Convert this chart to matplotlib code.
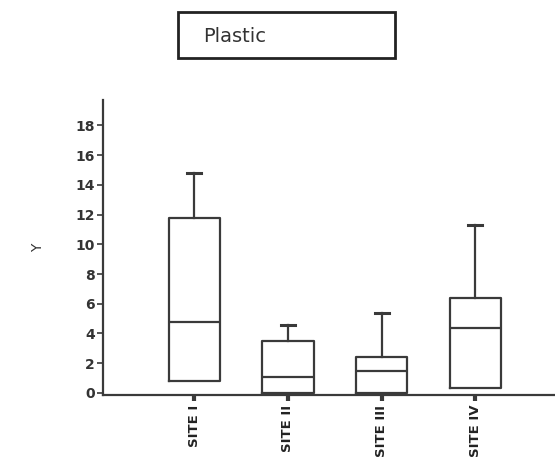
import matplotlib
matplotlib.use('Agg')
import matplotlib.pyplot as plt
from matplotlib.patches import Rectangle

# Дані
sites = ['SITE I', 'SITE II', 'SITE III', 'SITE IV']
whisker_low = [0.8, 0.0, 0.0, 0.3]
q1 = [0.8, 0.0, 0.0, 0.3]
median = [4.8, 1.1, 1.5, 4.4]
q3 = [11.8, 3.5, 2.4, 6.4]
whisker_high = [14.8, 4.6, 5.4, 11.3]
y_ticks = [0, 2, 4, 6, 8, 10, 12, 14, 16, 18]

stats = []
for i in range(len(sites)):
    stats.append({
        'label': sites[i],
        'whislo': whisker_low[i],
        'q1': q1[i],
        'med': median[i],
        'q3': q3[i],
        'whishi': whisker_high[i],
    })

line_col = '#3a3a3a'
fig = plt.figure(figsize=(5.55, 4.66), dpi=100)
ax = fig.add_axes([0.186, 0.152, 0.814, 0.633])

parts = ax.bxp(stats, positions=[1, 2, 3, 4], widths=0.55, capwidths=0.15, showfliers=False,
               boxprops=dict(color=line_col, linewidth=1.6),
               medianprops=dict(color=line_col, linewidth=1.6),
               whiskerprops=dict(color=line_col, linewidth=1.6),
               capprops=dict(color=line_col, linewidth=2.2))
# нижні "вуса" на рисунку не видно
for cap in parts['caps'][0::2]:
    cap.set_visible(False)

ax.set_xlim(0.028, 4.85)
ax.set_ylim(-0.15, 19.7)
ax.set_yticks(y_ticks)
ax.set_yticklabels([str(t) for t in y_ticks], fontsize=10, fontweight='bold', color='#333333')
ax.set_xticks([1, 2, 3, 4])
ax.set_xticklabels(sites, rotation=90, fontsize=9.5, fontweight='bold', color='#222222')
ax.tick_params(axis='y', length=4, width=1.2, color=line_col, pad=2)
ax.tick_params(axis='x', length=4, width=3, color=line_col, pad=3)

for side in ['top', 'right']:
    ax.spines[side].set_visible(False)
for side in ['left', 'bottom']:
    ax.spines[side].set_color(line_col)
    ax.spines[side].set_linewidth(1.6)

ax.set_ylabel('Y', fontsize=10, color='#333333', labelpad=22)

# Рамка з назвою
fig.patches.append(Rectangle((178 / 555, 1 - 58 / 466), 217 / 555, 46 / 466,
                             transform=fig.transFigure, fill=False,
                             edgecolor='#222222', linewidth=2))
fig.text(203 / 555, 1 - 36 / 466, 'Plastic', fontsize=14, va='center', ha='left',
         color='#333333')

plt.savefig('out.png', dpi=100)
plt.close()
